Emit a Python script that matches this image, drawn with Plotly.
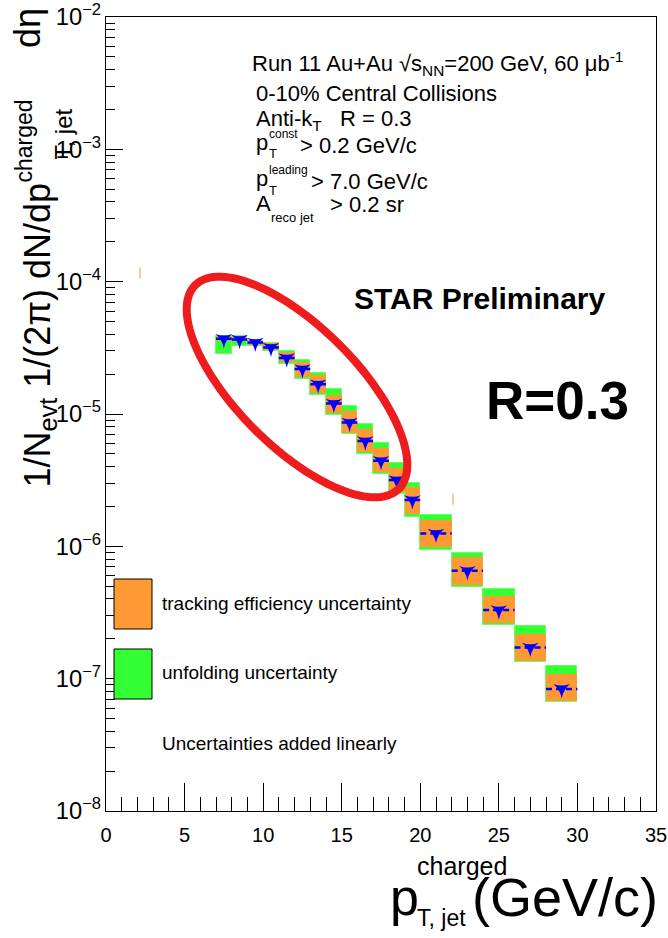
import numpy as np
import plotly.graph_objects as go

# ---------------- data ----------------
bin_lo = [7, 8, 9, 10, 11, 12, 13, 14, 15, 16, 17, 18, 19, 20, 22, 24, 26, 28]
bin_hi = [8, 9, 10, 11, 12, 13, 14, 15, 16, 17, 18, 19, 20, 22, 24, 26, 28, 30]
spectrum = [3.70e-5, 3.65e-5, 3.47e-5, 3.18e-5, 2.65e-5, 2.19e-5, 1.68e-5, 1.20e-5,
            8.61e-6, 6.24e-6, 4.43e-6, 3.17e-6, 2.24e-6, 1.25e-6, 6.53e-7, 3.30e-7,
            1.72e-7, 8.37e-8]
# tracking-efficiency uncertainty band (orange)
trk_lo = [3.556e-5, 3.556e-5, 3.346e-5, 3.041e-5, 2.468e-5, 1.900e-5, 1.439e-5, 1.016e-5,
          7.235e-6, 5.18e-6, 3.658e-6, 2.582e-6, 1.751e-6, 9.91e-7, 5.088e-7, 2.614e-7,
          1.363e-7, 6.76e-8]
trk_hi = [3.846e-5, 3.813e-5, 3.556e-5, 3.435e-5, 2.937e-5, 2.468e-5, 1.968e-5, 1.401e-5,
          1.052e-5, 7.69e-6, 5.50e-6, 3.88e-6, 2.817e-6, 1.578e-6, 8.245e-7, 4.203e-7,
          2.169e-7, 1.076e-7]
# total (tracking + unfolding, added linearly) band (green)
tot_lo = [2.836e-5, 3.289e-5, 3.289e-5, 2.988e-5, 2.404e-5, 1.835e-5, 1.389e-5, 9.90e-6,
          7.05e-6, 4.975e-6, 3.494e-6, 2.480e-6, 1.653e-6, 9.36e-7, 4.89e-7, 2.524e-7,
          1.326e-7, 6.61e-8]
tot_hi = [3.88e-5, 3.88e-5, 3.587e-5, 3.465e-5, 2.988e-5, 2.555e-5, 2.055e-5, 1.556e-5,
          1.147e-5, 8.46e-6, 5.996e-6, 4.277e-6, 2.988e-6, 1.712e-6, 8.93e-7, 4.724e-7,
          2.507e-7, 1.243e-7]
# two small red stray marks visible in the reference
stray_x = [2.16, 22.08]
stray_y = [1.16e-4, 2.27e-6]

x_ticks = [0, 5, 10, 15, 20, 25, 30, 35]

# ---------------- figure geometry ----------------
W, H = 668, 938
L, R, T, B = 106, 656, 17, 811
FONT = "Liberation Sans, Arial, Helvetica, sans-serif"
ORANGE = "#FF9933"
GREEN = "#33FF33"
BLUE = "#0000FF"


def P(px):
    return (px - L) / (R - L)


def Q(py):
    return (B - py) / (B - T)


lo = np.array(bin_lo, float)
hi = np.array(bin_hi, float)
centers = (lo + hi) / 2
widths = hi - lo

fig = go.Figure()

fig.add_trace(go.Bar(
    x=centers, width=widths, base=tot_lo,
    y=np.array(tot_hi) - np.array(tot_lo),
    marker=dict(color=GREEN, line=dict(color="#66FF66", width=1)),
    hoverinfo="skip"))
fig.add_trace(go.Bar(
    x=centers, width=widths, base=trk_lo,
    y=np.array(trk_hi) - np.array(trk_lo),
    marker=dict(color=ORANGE, line=dict(width=0)),
    hoverinfo="skip"))

# dashed horizontal bin-width bars
hx, hy = [], []
for a, b, v in zip(bin_lo, bin_hi, spectrum):
    hx += [a, b, None]
    hy += [v, v, None]
fig.add_trace(go.Scatter(x=hx, y=hy, mode="lines",
                         line=dict(color=BLUE, width=2.5, dash="6px,4px"),
                         hoverinfo="skip"))
fig.add_trace(go.Scatter(x=centers, y=spectrum, mode="markers",
                         marker=dict(symbol="star-triangle-down", size=12, color=BLUE,
                                     line=dict(width=0))))
fig.add_trace(go.Scatter(x=stray_x, y=stray_y, mode="markers",
                         marker=dict(symbol="line-ns-open", size=8,
                                     line=dict(color="#FF3030", width=1.2))))

axis_common = dict(showline=True, linecolor="black", linewidth=1.2, mirror=True,
                   showgrid=False, zeroline=False, ticks="inside", tickcolor="black",
                   ticklabeloverflow="allow", automargin=False)

fig.update_xaxes(range=[0, 35], tickvals=x_ticks, ticklen=28, tickwidth=1,
                 minor=dict(dtick=1, ticks="inside", ticklen=14, tickcolor="black",
                            showgrid=False),
                 ticklabelstandoff=6, tickfont=dict(family=FONT, size=20, color="black"),
                 **axis_common)
fig.update_yaxes(type="log", range=[-8, -2], dtick=1, exponentformat="power",
                 ticklen=17, tickwidth=1,
                 minor=dict(dtick="D1", ticks="inside", ticklen=9, tickcolor="black",
                            showgrid=False),
                 tickfont=dict(family=FONT, size=19, color="black"),
                 **axis_common)

# ---------------- red ellipse ----------------
cx, cy, ea, eb, th = 297, 387, 144, 60, np.deg2rad(45)
tt = np.linspace(0, 2 * np.pi, 121)
ex = cx + ea * np.cos(tt) * np.cos(th) - eb * np.sin(tt) * np.sin(th)
ey = cy + ea * np.cos(tt) * np.sin(th) + eb * np.sin(tt) * np.cos(th)
path = "M " + " L ".join(f"{P(a):.5f},{Q(b):.5f}" for a, b in zip(ex, ey)) + " Z"

shapes = [
    dict(type="path", xref="paper", yref="paper", path=path,
         line=dict(color="#EE1C1C", width=8)),
    dict(type="rect", xref="paper", yref="paper", x0=P(114), x1=P(152), y0=Q(579), y1=Q(629),
         fillcolor=ORANGE, line=dict(color="black", width=1)),
    dict(type="rect", xref="paper", yref="paper", x0=P(114), x1=P(152), y0=Q(649), y1=Q(699),
         fillcolor=GREEN, line=dict(color="black", width=1)),
]

ann = []


def txt(s, px, py, size, xa="left", ya="middle", bold=False, angle=0):
    ann.append(dict(text=(f"<b>{s}</b>" if bold else s), x=P(px), y=Q(py),
                    xref="paper", yref="paper", xanchor=xa, yanchor=ya,
                    showarrow=False, textangle=angle,
                    font=dict(family=FONT, size=size, color="black")))


# info block
txt("Run 11 Au+Au \u221as<sub>NN</sub>=200 GeV, 60 \u03bcb<sup>-1</sup>", 250, 63, 22)
txt("0-10% Central Collisions", 254, 93, 22)
txt("Anti-k<sub>T</sub>\u00a0\u00a0\u00a0R = 0.3", 254, 120, 22)
txt("p", 254, 142, 22)
txt("const", 267, 134, 12)
txt("T", 267, 153, 13)
txt("> 0.2 GeV/c", 298, 145, 22)
txt("p", 254, 179, 22)
txt("leading", 267, 170, 12)
txt("T", 267, 190, 13)
txt("> 7.0 GeV/c", 309, 182, 22)
txt("A", 254, 203, 22)
txt("reco jet", 269, 217, 13)
txt("> 0.2 sr", 328, 205, 22)

txt("STAR Preliminary", 352, 298, 30, bold=True)
txt("R=0.3", 484, 400, 53, bold=True)

# legend texts
txt("tracking efficiency uncertainty", 160, 603, 19)
txt("unfolding uncertainty", 160, 672, 19)
txt("Uncertainties added linearly", 160, 743, 19)

# x-axis title
txt("p", 388, 897, 52)
txt("charged", 415, 866, 25)
txt("T, jet", 415, 918, 23)
txt("(GeV/c)", 660, 897, 54, xa="right")

# y-axis title (rotated)
txt("1/N<sub>evt</sub> 1/(2\u03c0) dN/dp", 39, 490, 36, xa="center", ya="bottom", angle=-90)
txt("charged", 24, 185, 23, xa="center", ya="bottom", angle=-90)
txt("T, jet", 63, 162, 24, xa="center", ya="bottom", angle=-90)
txt("d\u03b7", 28, 50, 36, xa="center", ya="bottom", angle=-90)

fig.update_layout(
    width=W, height=H,
    margin=dict(l=L, r=W - R, t=T, b=H - B, pad=0, autoexpand=False),
    paper_bgcolor="white", plot_bgcolor="white",
    showlegend=False, barmode="overlay", bargap=0,
    shapes=shapes, annotations=ann,
    font=dict(family=FONT, color="black"),
)

fig.write_html("out.html", config={"displayModeBar": False},
               post_script="document.body.style.margin='0';"
                           "document.body.style.overflow='hidden';")
